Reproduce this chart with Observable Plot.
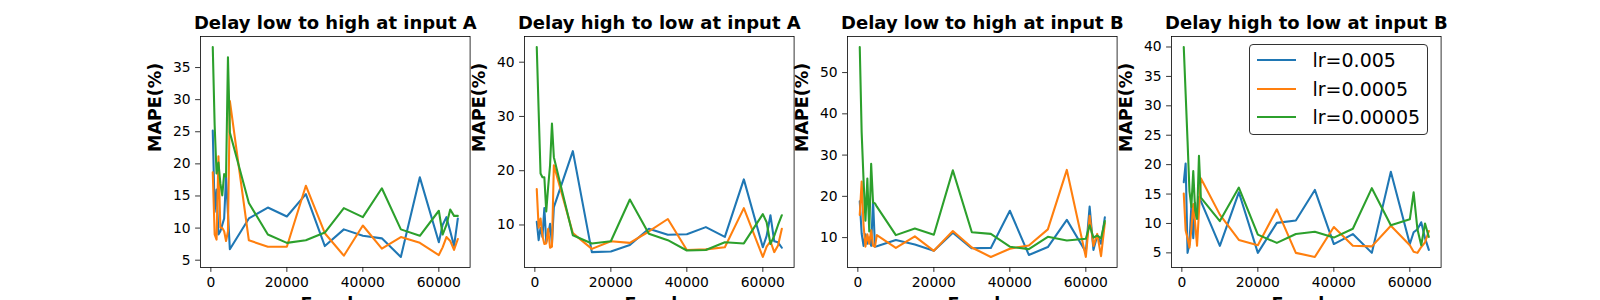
<!DOCTYPE html>
<html><head><meta charset="utf-8">
<script src="https://cdn.jsdelivr.net/npm/d3@7"></script>
<script src="https://cdn.jsdelivr.net/npm/@observablehq/plot@0.6"></script>
<style>
html,body{margin:0;padding:0;background:#fff;}
#chart{position:relative;width:1600px;height:300px;overflow:hidden;font-family:"DejaVu Sans",sans-serif;background:#fff;}
#chart svg{position:absolute;top:0;}
.legend{position:absolute;left:1249px;top:44px;width:179px;height:91px;box-sizing:border-box;border:1px solid #333;border-radius:4px;background:rgba(255,255,255,0.8);}
.legend .row{position:absolute;left:0;height:28px;display:flex;align-items:center;}
.legend .handle{width:39px;height:2.1px;margin-left:6.5px;margin-right:17px;}
.legend .lab{font-size:19px;font-family:"DejaVu Sans",sans-serif;color:#000;line-height:1;}
</style></head>
<body><div id="chart"></div>
<script>
// ---- data ----
const epochs = [500,1000,1500,2000,2500,3000,3500,4000,4500,5000,10000,15000,20000,25000,30000,35000,40000,45000,50000,55000,60000,61000,62000,63000,64000,65000];
const titles = ["Delay low to high at input A","Delay high to low at input A","Delay low to high at input B","Delay high to low at input B"];
const seriesNames = ["lr=0.005","lr=0.0005","lr=0.00005"];
const colors = ["#1f77b4","#ff7f0e","#2ca02c"];
const yLabel = "MAPE(%)";
const xLabel = "Epochs";
const xTicks = [0,20000,40000,60000];
const yTicksA1 = [5,10,15,20,25,30,35];
const yTicksA2 = [10,20,30,40];
const yTicksB1 = [10,20,30,40,50];
const yTicksB2 = [5,10,15,20,25,30,35,40];

const lowHighA_005   = [25.2,12.5,16.0,9.0,9.5,10.5,11.5,18.0,12.3,6.7,11.5,13.2,11.8,15.3,7.2,9.8,8.8,8.4,5.5,17.9,7.8,10.5,11.7,9.5,7.2,11.5];
const lowHighA_0005  = [18.7,9.0,8.2,21.2,10.1,10.0,9.5,8.0,9.5,29.8,8.1,7.1,7.1,16.6,9.2,5.7,10.4,6.8,8.6,7.7,5.8,7.0,8.6,8.0,6.6,8.3];
const lowHighA_00005 = [38.2,26.0,18.5,20.2,17.0,15.1,18.4,18.0,36.6,24.9,13.9,9.0,7.7,8.1,9.3,13.1,11.7,16.2,9.8,8.8,12.7,9.0,10.5,12.9,11.9,11.9];

const highLowA_005   = [10.6,7.2,9.5,7.8,13.1,6.8,8.2,10.2,6.5,13.3,23.6,5.0,5.1,6.3,9.3,8.2,8.3,9.6,7.8,18.4,5.9,8.0,11.8,7.0,6.8,5.8];
const highLowA_0005  = [16.6,9.5,11.2,8.0,6.5,6.6,9.3,5.8,6.0,21.0,8.5,5.6,7.0,6.7,8.8,11.1,5.4,5.5,5.9,13.1,4.1,6.0,7.0,5.0,6.2,9.3];
const highLowA_00005 = [42.8,31.0,19.5,18.8,18.8,12.5,17.0,21.0,28.7,22.5,8.1,6.6,7.0,14.7,8.4,7.2,5.3,5.4,6.8,6.6,12.0,10.5,6.5,8.0,10.0,11.8];

const lowHighB_005   = [18.8,11.0,8.0,10.8,8.5,10.0,8.0,19.0,7.8,7.9,9.4,8.3,6.8,11.2,7.4,7.5,16.5,5.8,7.7,14.3,6.5,17.5,7.0,10.5,8.5,14.9];
const lowHighB_0005  = [15.5,23.6,13.0,7.8,10.8,8.5,11.8,8.0,7.8,10.6,7.5,10.3,6.8,11.6,7.6,5.3,7.3,8.1,12.0,26.4,5.3,15.3,8.0,10.9,5.5,13.5];
const lowHighB_00005 = [56.2,35.5,24.0,14.1,24.3,11.5,27.9,18.5,18.3,17.5,10.6,12.2,10.7,26.3,11.3,10.9,7.8,7.2,10.2,9.3,9.7,13.0,10.0,10.5,9.8,14.0];

const highLowB_005   = [17.0,20.2,5.0,6.5,13.0,7.5,13.5,10.8,14.5,13.8,6.2,15.3,5.0,10.1,10.5,15.7,6.5,8.2,5.0,18.8,6.5,8.5,9.0,10.2,7.5,5.5];
const highLowB_0005  = [15.1,8.8,7.5,5.9,9.0,13.3,10.0,6.2,12.0,17.7,11.5,7.2,6.3,12.4,5.0,4.3,9.4,6.2,6.1,9.6,6.3,5.2,5.0,6.0,6.8,8.7];
const highLowB_00005 = [40.0,32.0,24.0,15.5,12.8,18.9,12.2,10.8,21.5,14.4,10.4,16.1,8.1,6.7,8.2,8.6,7.6,9.1,16.0,9.7,10.7,15.3,9.0,6.3,10.0,7.7];

const panels = [
  {title: titles[0], yTicks: yTicksA1, series: [lowHighA_005, lowHighA_0005, lowHighA_00005]},
  {title: titles[1], yTicks: yTicksA2, series: [highLowA_005, highLowA_0005, highLowA_00005]},
  {title: titles[2], yTicks: yTicksB1, series: [lowHighB_005, lowHighB_0005, lowHighB_00005]},
  {title: titles[3], yTicks: yTicksB2, series: [highLowB_005, highLowB_0005, highLowB_00005]}
];

// ---- layout ----
const axesLeft0 = 200, axesW = 269.6, gap = 53.9;
const mL = 80, mR = 10, mT = 36, mB = 33;
const chart = document.getElementById("chart");

panels.forEach((p, i) => {
  const all = p.series.flat();
  const lo = d3.min(all), hi = d3.max(all), r = hi - lo;
  const x0 = epochs[0], x1 = epochs[epochs.length - 1], xr = x1 - x0;
  const lineMarks = p.series.map((vals, s) =>
    Plot.line(vals.map((v, k) => ({x: epochs[k], y: v})), {x: "x", y: "y", stroke: colors[s], strokeWidth: 2.08, strokeLinejoin: "round"})
  );
  const svg = Plot.plot({
    width: mL + axesW + mR, height: 300,
    marginLeft: mL, marginRight: mR, marginTop: mT, marginBottom: mB,
    style: {fontFamily: "DejaVu Sans", fontSize: "13.9px", color: "#000", background: "transparent", overflow: "visible", maxWidth: "none"},
    x: {domain: [x0 - 0.05 * xr, x1 + 0.05 * xr]},
    y: {domain: [lo - 0.05 * r, hi + 0.05 * r]},
    marks: [
      ...lineMarks,
      Plot.frame({stroke: "#000", strokeWidth: 0.8}),
      Plot.axisX({ticks: xTicks, tickFormat: d3.format("d"), tickSize: 4.9, tickPadding: 4.9, label: null, strokeWidth: 0.8}),
      Plot.axisY({ticks: p.yTicks, tickFormat: d3.format("d"), tickSize: 4.9, tickPadding: 4.9, label: null, strokeWidth: 0.8}),
      Plot.text([p.title], {text: d => d, frameAnchor: "top", lineAnchor: "bottom", dy: -7.5, fontWeight: "bold", fontSize: 18}),
      Plot.text([yLabel], {text: d => d, frameAnchor: "left", rotate: -90, lineAnchor: "middle", dx: -45, fontWeight: "bold", fontSize: 17.5}),
      Plot.text([xLabel], {text: d => d, frameAnchor: "bottom", lineAnchor: "bottom", dy: 43, fontWeight: "bold", fontSize: 17.5})
    ]
  });
  svg.style.left = (axesLeft0 + i * (axesW + gap) - mL) + "px";
  chart.appendChild(svg);
});

// ---- legend ----
const legend = document.createElement("div");
legend.className = "legend";
const rowCenters = [15.3, 44.3, 72];
seriesNames.forEach((name, s) => {
  const row = document.createElement("div");
  row.className = "row";
  row.style.top = (rowCenters[s] - 14) + "px";
  const h = document.createElement("div");
  h.className = "handle";
  h.style.background = colors[s];
  const t = document.createElement("span");
  t.className = "lab";
  t.textContent = name;
  row.appendChild(h); row.appendChild(t);
  legend.appendChild(row);
});
chart.appendChild(legend);
</script>
</body></html>
